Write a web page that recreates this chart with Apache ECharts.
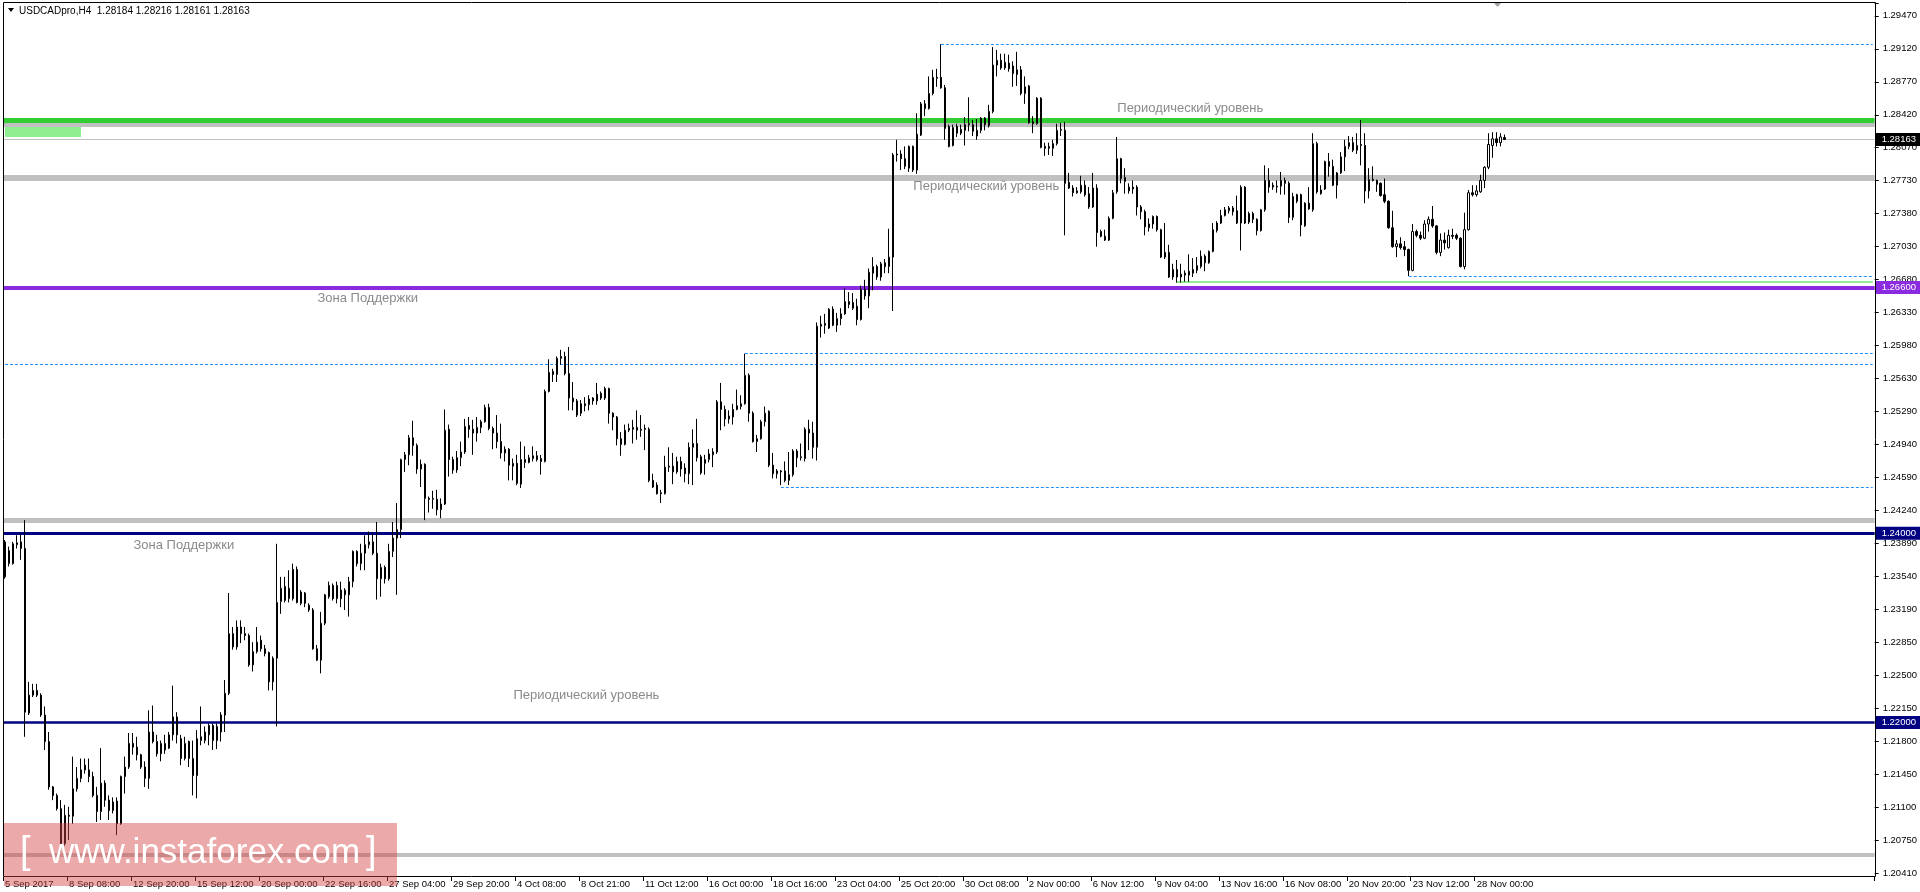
<!DOCTYPE html>
<html><head><meta charset="utf-8">
<script src="https://cdn.jsdelivr.net/npm/echarts@6/dist/echarts.min.js"></script>
<style>html,body{margin:0;padding:0;background:#fff;overflow:hidden}#chart{width:1920px;height:892px}</style>
</head><body><div id="chart"></div>
<script>
// ---------- DATA ----------
const chartTitle = 'USDCADpro,H4  1.28184 1.28216 1.28161 1.28163';
const timeLabels = ['5 Sep 2017','8 Sep 08:00','12 Sep 20:00','15 Sep 12:00','20 Sep 00:00','22 Sep 16:00','27 Sep 04:00','29 Sep 20:00','4 Oct 08:00','8 Oct 21:00','11 Oct 12:00','16 Oct 00:00','18 Oct 16:00','23 Oct 04:00','25 Oct 20:00','30 Oct 08:00','2 Nov 00:00','6 Nov 12:00','9 Nov 04:00','13 Nov 16:00','16 Nov 08:00','20 Nov 20:00','23 Nov 12:00','28 Nov 00:00'];
const barsPerLabel = 16;
const totalSlots = 468; // bars + empty shift area on the right
const priceTicks = ['1.20410','1.20750','1.21100','1.21450','1.21800','1.22150','1.22500','1.22850','1.23190','1.23540','1.23890','1.24240','1.24590','1.24940','1.25290','1.25630','1.25980','1.26330','1.26680','1.27030','1.27380','1.27730','1.28070','1.28420','1.28770','1.29120','1.29470'];
// [open, high, low, close]
const ohlc = [
[1.2354,1.2393,1.2352,1.2391],[1.2368,1.2386,1.2365,1.2382],[1.2368,1.2391,1.2367,1.2389],[1.2388,1.2398,1.2384,1.2390],[1.2391,1.2400,1.2372,1.2384],
[1.2384,1.2414,1.2185,1.2211],[1.2210,1.2243,1.2208,1.2229],[1.2229,1.2241,1.2227,1.2234],[1.2234,1.2241,1.2227,1.2229],[1.2229,1.2231,1.2206,1.2208],
[1.2208,1.2217,1.2171,1.2180],[1.2180,1.2190,1.2129,1.2132],[1.2132,1.2133,1.2118,1.2123],[1.2123,1.2125,1.2107,1.2109],[1.2109,1.2118,1.2063,1.2072],
[1.2072,1.2113,1.2070,1.2102],[1.2102,1.2111,1.2076,1.2101],[1.2101,1.2164,1.2093,1.2130],[1.2130,1.2153,1.2127,1.2141],[1.2141,1.2162,1.2137,1.2150],
[1.2155,1.2162,1.2146,1.2150],[1.2150,1.2162,1.2137,1.2143],[1.2143,1.2148,1.2121,1.2123],[1.2123,1.2132,1.2095,1.2106],[1.2106,1.2173,1.2097,1.2136],
[1.2136,1.2139,1.2111,1.2118],[1.2118,1.2123,1.2097,1.2107],[1.2107,1.2121,1.2104,1.2116],[1.2117,1.2121,1.2081,1.2093],[1.2093,1.2144,1.2092,1.2143],
[1.2143,1.2164,1.2125,1.2153],[1.2153,1.2189,1.2151,1.2178],[1.2178,1.2189,1.2166,1.2174],[1.2174,1.2185,1.2160,1.2166],[1.2166,1.2167,1.2151,1.2153],
[1.2153,1.2159,1.2132,1.2141],[1.2141,1.2213,1.2130,1.2190],[1.2190,1.2218,1.2178,1.2180],[1.2180,1.2187,1.2164,1.2167],[1.2167,1.2181,1.2159,1.2178],
[1.2171,1.2187,1.2167,1.2178],[1.2173,1.2190,1.2172,1.2187],[1.2187,1.2239,1.2181,1.2206],[1.2206,1.2211,1.2178,1.2187],[1.2183,1.2187,1.2155,1.2162],
[1.2162,1.2185,1.2160,1.2178],[1.2180,1.2181,1.2153,1.2162],[1.2162,1.2181,1.2123,1.2144],[1.2144,1.2192,1.2120,1.2183],[1.2181,1.2217,1.2176,1.2185],
[1.2181,1.2196,1.2178,1.2190],[1.2187,1.2199,1.2176,1.2197],[1.2197,1.2199,1.2171,1.2181],[1.2181,1.2199,1.2172,1.2196],[1.2190,1.2211,1.2180,1.2208],
[1.2208,1.2245,1.2190,1.2231],[1.2231,1.2337,1.2229,1.2294],[1.2294,1.2301,1.2277,1.2280],[1.2280,1.2308,1.2277,1.2301],[1.2301,1.2308,1.2284,1.2294],
[1.2294,1.2301,1.2287,1.2292],[1.2292,1.2294,1.2259,1.2261],[1.2261,1.2285,1.2254,1.2275],[1.2275,1.2301,1.2273,1.2285],[1.2287,1.2292,1.2275,1.2278],
[1.2278,1.2282,1.2270,1.2273],[1.2274,1.2275,1.2234,1.2243],[1.2243,1.2270,1.2234,1.2268],[1.2268,1.2389,1.2196,1.2327],[1.2328,1.2354,1.2315,1.2342],
[1.2329,1.2354,1.2327,1.2344],[1.2331,1.2361,1.2327,1.2342],[1.2331,1.2368,1.2329,1.2362],[1.2362,1.2365,1.2326,1.2327],[1.2326,1.2340,1.2324,1.2338],
[1.2337,1.2338,1.2322,1.2326],[1.2324,1.2326,1.2317,1.2319],[1.2319,1.2321,1.2277,1.2278],[1.2278,1.2282,1.2265,1.2266],[1.2266,1.2317,1.2252,1.2305],
[1.2305,1.2336,1.2303,1.2335],[1.2333,1.2349,1.2331,1.2345],[1.2345,1.2347,1.2329,1.2331],[1.2331,1.2349,1.2326,1.2345],[1.2340,1.2349,1.2322,1.2331],
[1.2335,1.2342,1.2319,1.2340],[1.2335,1.2354,1.2312,1.2349],[1.2349,1.2382,1.2343,1.2381],[1.2381,1.2382,1.2365,1.2368],[1.2368,1.2389,1.2361,1.2379],
[1.2379,1.2398,1.2361,1.2388],[1.2388,1.2402,1.2384,1.2391],[1.2391,1.2400,1.2377,1.2379],[1.2379,1.2412,1.2330,1.2352],[1.2352,1.2368,1.2333,1.2364],
[1.2364,1.2366,1.2347,1.2352],[1.2352,1.2389,1.2350,1.2381],[1.2381,1.2412,1.2375,1.2395],[1.2395,1.2432,1.2335,1.2404],[1.2404,1.2479,1.2395,1.2478],
[1.2478,1.2486,1.2465,1.2483],[1.2483,1.2504,1.2472,1.2501],[1.2501,1.2519,1.2482,1.2493],[1.2493,1.2495,1.2463,1.2468],[1.2468,1.2478,1.2449,1.2473],
[1.2473,1.2474,1.2414,1.2437],[1.2437,1.2439,1.2422,1.2436],[1.2436,1.2445,1.2426,1.2437],[1.2436,1.2446,1.2419,1.2425],[1.2425,1.2437,1.2416,1.2431],
[1.2431,1.2531,1.2430,1.2509],[1.2510,1.2515,1.2460,1.2478],[1.2478,1.2481,1.2463,1.2467],[1.2467,1.2487,1.2464,1.2480],[1.2480,1.2497,1.2471,1.2486],
[1.2486,1.2521,1.2484,1.2513],[1.2514,1.2523,1.2501,1.2510],[1.2510,1.2520,1.2483,1.2506],[1.2506,1.2523,1.2497,1.2512],[1.2512,1.2520,1.2506,1.2518],
[1.2518,1.2536,1.2517,1.2533],[1.2533,1.2537,1.2509,1.2511],[1.2511,1.2513,1.2489,1.2506],[1.2506,1.2525,1.2490,1.2497],[1.2497,1.2516,1.2479,1.2485],
[1.2485,1.2492,1.2476,1.2489],[1.2489,1.2490,1.2456,1.2472],[1.2471,1.2479,1.2456,1.2474],[1.2474,1.2483,1.2451,1.2453],[1.2452,1.2497,1.2448,1.2478],
[1.2478,1.2492,1.2469,1.2475],[1.2475,1.2483,1.2474,1.2480],[1.2479,1.2492,1.2476,1.2482],[1.2482,1.2487,1.2476,1.2478],[1.2479,1.2483,1.2462,1.2476],
[1.2476,1.2552,1.2475,1.2550],[1.2550,1.2584,1.2549,1.2570],[1.2571,1.2574,1.2560,1.2568],[1.2568,1.2587,1.2560,1.2585],[1.2585,1.2594,1.2578,1.2587],
[1.2587,1.2592,1.2567,1.2569],[1.2569,1.2597,1.2530,1.2543],[1.2543,1.2560,1.2530,1.2539],[1.2540,1.2542,1.2523,1.2525],[1.2527,1.2541,1.2524,1.2537],
[1.2537,1.2544,1.2529,1.2535],[1.2536,1.2546,1.2530,1.2542],[1.2543,1.2544,1.2536,1.2540],[1.2540,1.2559,1.2536,1.2547],[1.2548,1.2550,1.2541,1.2543],
[1.2543,1.2555,1.2541,1.2553],[1.2553,1.2554,1.2516,1.2527],[1.2527,1.2528,1.2509,1.2523],[1.2523,1.2524,1.2493,1.2500],[1.2500,1.2507,1.2482,1.2494],
[1.2494,1.2515,1.2493,1.2509],[1.2509,1.2516,1.2507,1.2511],[1.2510,1.2520,1.2495,1.2512],[1.2512,1.2530,1.2499,1.2509],[1.2510,1.2525,1.2502,1.2509],
[1.2511,1.2515,1.2488,1.2510],[1.2510,1.2512,1.2454,1.2456],[1.2456,1.2463,1.2448,1.2449],[1.2451,1.2454,1.2441,1.2442],[1.2443,1.2446,1.2432,1.2442],
[1.2442,1.2482,1.2441,1.2470],[1.2470,1.2491,1.2465,1.2471],[1.2471,1.2485,1.2452,1.2465],[1.2465,1.2481,1.2463,1.2476],[1.2476,1.2481,1.2460,1.2468],
[1.2469,1.2474,1.2454,1.2463],[1.2463,1.2496,1.2452,1.2491],[1.2491,1.2510,1.2451,1.2495],[1.2495,1.2521,1.2476,1.2480],[1.2481,1.2483,1.2462,1.2464],
[1.2474,1.2483,1.2462,1.2478],[1.2478,1.2489,1.2475,1.2484],[1.2483,1.2490,1.2470,1.2486],[1.2486,1.2541,1.2484,1.2539],[1.2539,1.2559,1.2509,1.2531],
[1.2531,1.2535,1.2513,1.2521],[1.2521,1.2530,1.2516,1.2524],[1.2523,1.2537,1.2515,1.2531],[1.2531,1.2552,1.2530,1.2535],[1.2534,1.2546,1.2531,1.2537],
[1.2537,1.2590,1.2536,1.2567],[1.2567,1.2569,1.2518,1.2527],[1.2527,1.2529,1.2496,1.2497],[1.2497,1.2504,1.2486,1.2500],[1.2500,1.2520,1.2499,1.2518],
[1.2518,1.2534,1.2513,1.2527],[1.2529,1.2530,1.2470,1.2472],[1.2472,1.2485,1.2458,1.2463],[1.2463,1.2468,1.2458,1.2466],[1.2466,1.2467,1.2451,1.2465],
[1.2466,1.2476,1.2454,1.2456],[1.2456,1.2486,1.2451,1.2462],[1.2462,1.2489,1.2460,1.2487],[1.2487,1.2489,1.2470,1.2480],[1.2480,1.2495,1.2477,1.2481],
[1.2479,1.2512,1.2476,1.2510],[1.2510,1.2520,1.2488,1.2506],[1.2506,1.2518,1.2479,1.2491],[1.2491,1.2623,1.2477,1.2619],[1.2619,1.2630,1.2607,1.2621],
[1.2620,1.2632,1.2611,1.2622],[1.2617,1.2638,1.2616,1.2637],[1.2637,1.2640,1.2619,1.2620],[1.2620,1.2633,1.2613,1.2627],[1.2627,1.2638,1.2620,1.2632],
[1.2632,1.2659,1.2631,1.2645],[1.2645,1.2655,1.2638,1.2642],[1.2644,1.2654,1.2636,1.2638],[1.2640,1.2648,1.2620,1.2626],[1.2626,1.2662,1.2625,1.2658],
[1.2658,1.2668,1.2647,1.2651],[1.2651,1.2680,1.2638,1.2676],[1.2675,1.2692,1.2657,1.2682],[1.2682,1.2684,1.2668,1.2671],[1.2671,1.2687,1.2667,1.2685],
[1.2686,1.2690,1.2675,1.2682],[1.2682,1.2722,1.2675,1.2692],[1.2692,1.2802,1.2635,1.2800],[1.2800,1.2816,1.2793,1.2801],[1.2801,1.2805,1.2784,1.2796],
[1.2796,1.2809,1.2785,1.2788],[1.2786,1.2810,1.2782,1.2809],[1.2809,1.2810,1.2782,1.2784],[1.2784,1.2844,1.2780,1.2822],[1.2821,1.2856,1.2820,1.2854],
[1.2854,1.2858,1.2841,1.2849],[1.2849,1.2883,1.2848,1.2865],[1.2865,1.2890,1.2863,1.2882],[1.2882,1.2891,1.2872,1.2881],[1.2882,1.2917,1.2870,1.2871],
[1.2871,1.2874,1.2816,1.2828],[1.2830,1.2832,1.2808,1.2809],[1.2810,1.2832,1.2809,1.2829],[1.2830,1.2833,1.2819,1.2823],[1.2823,1.2832,1.2821,1.2827],
[1.2826,1.2840,1.2810,1.2832],[1.2833,1.2861,1.2825,1.2832],[1.2832,1.2837,1.2820,1.2825],[1.2820,1.2838,1.2816,1.2826],[1.2826,1.2840,1.2823,1.2839],
[1.2839,1.2840,1.2826,1.2832],[1.2831,1.2853,1.2829,1.2846],[1.2846,1.2914,1.2844,1.2895],[1.2895,1.2911,1.2883,1.2900],[1.2900,1.2907,1.2890,1.2892],
[1.2892,1.2907,1.2890,1.2898],[1.2897,1.2906,1.2888,1.2891],[1.2894,1.2899,1.2872,1.2886],[1.2885,1.2909,1.2873,1.2890],[1.2890,1.2894,1.2863,1.2865],
[1.2865,1.2883,1.2854,1.2872],[1.2873,1.2874,1.2833,1.2834],[1.2835,1.2841,1.2823,1.2833],[1.2833,1.2861,1.2832,1.2860],[1.2860,1.2861,1.2807,1.2808],
[1.2809,1.2813,1.2799,1.2807],[1.2807,1.2813,1.2800,1.2809],[1.2807,1.2816,1.2799,1.2812],[1.2812,1.2833,1.2810,1.2826],[1.2826,1.2834,1.2820,1.2827],
[1.2826,1.2835,1.2715,1.2770],[1.2771,1.2781,1.2764,1.2765],[1.2765,1.2768,1.2756,1.2760],[1.2762,1.2766,1.2759,1.2760],[1.2761,1.2778,1.2759,1.2768],
[1.2768,1.2773,1.2756,1.2758],[1.2759,1.2766,1.2743,1.2745],[1.2745,1.2781,1.2744,1.2765],[1.2765,1.2769,1.2703,1.2718],[1.2719,1.2721,1.2713,1.2714],
[1.2714,1.2721,1.2709,1.2710],[1.2710,1.2735,1.2709,1.2733],[1.2733,1.2763,1.2732,1.2760],[1.2761,1.2819,1.2759,1.2796],[1.2796,1.2797,1.2770,1.2775],
[1.2776,1.2786,1.2759,1.2772],[1.2762,1.2770,1.2759,1.2766],[1.2766,1.2773,1.2759,1.2764],[1.2766,1.2768,1.2736,1.2745],[1.2745,1.2747,1.2732,1.2740],
[1.2740,1.2742,1.2715,1.2724],[1.2723,1.2733,1.2719,1.2727],[1.2727,1.2736,1.2722,1.2735],[1.2735,1.2736,1.2719,1.2721],[1.2721,1.2722,1.2691,1.2692],
[1.2692,1.2728,1.2690,1.2697],[1.2697,1.2705,1.2670,1.2671],[1.2671,1.2685,1.2668,1.2679],[1.2679,1.2689,1.2665,1.2671],[1.2671,1.2685,1.2665,1.2674],
[1.2675,1.2678,1.2666,1.2673],[1.2673,1.2695,1.2666,1.2677],[1.2675,1.2691,1.2671,1.2679],[1.2678,1.2692,1.2675,1.2683],[1.2682,1.2699,1.2680,1.2693],
[1.2693,1.2695,1.2677,1.2686],[1.2686,1.2699,1.2685,1.2698],[1.2698,1.2728,1.2697,1.2721],[1.2720,1.2730,1.2718,1.2728],[1.2728,1.2742,1.2727,1.2736],
[1.2736,1.2745,1.2735,1.2742],[1.2741,1.2746,1.2738,1.2744],[1.2744,1.2746,1.2736,1.2740],[1.2741,1.2757,1.2727,1.2728],[1.2728,1.2768,1.2699,1.2766],
[1.2766,1.2767,1.2727,1.2728],[1.2729,1.2740,1.2727,1.2738],[1.2738,1.2740,1.2728,1.2732],[1.2732,1.2733,1.2715,1.2720],[1.2720,1.2743,1.2719,1.2742],
[1.2742,1.2789,1.2740,1.2773],[1.2773,1.2786,1.2760,1.2766],[1.2768,1.2771,1.2763,1.2766],[1.2766,1.2773,1.2760,1.2767],[1.2767,1.2782,1.2758,1.2773],
[1.2773,1.2776,1.2758,1.2770],[1.2770,1.2772,1.2728,1.2734],[1.2734,1.2760,1.2731,1.2756],[1.2751,1.2759,1.2749,1.2758],[1.2758,1.2759,1.2714,1.2726],
[1.2725,1.2750,1.2724,1.2749],[1.2749,1.2766,1.2742,1.2743],[1.2742,1.2823,1.2740,1.2812],[1.2812,1.2814,1.2759,1.2761],[1.2759,1.2768,1.2758,1.2763],
[1.2764,1.2794,1.2763,1.2793],[1.2793,1.2802,1.2777,1.2788],[1.2788,1.2795,1.2767,1.2768],[1.2768,1.2782,1.2754,1.2781],[1.2781,1.2803,1.2780,1.2798],
[1.2798,1.2816,1.2783,1.2809],[1.2809,1.2820,1.2806,1.2813],[1.2813,1.2819,1.2803,1.2805],[1.2805,1.2823,1.2801,1.2810],[1.2811,1.2837,1.2789,1.2810],
[1.2810,1.2823,1.2749,1.2762],[1.2762,1.2786,1.2754,1.2774],[1.2774,1.2788,1.2772,1.2773],[1.2773,1.2774,1.2761,1.2769],[1.2770,1.2771,1.2756,1.2757],
[1.2758,1.2775,1.2749,1.2751],[1.2751,1.2752,1.2722,1.2723],[1.2723,1.2741,1.2702,1.2703],[1.2703,1.2710,1.2692,1.2706],[1.2706,1.2713,1.2700,1.2702],
[1.2703,1.2709,1.2693,1.2700],[1.2700,1.2701,1.2672,1.2678],[1.2678,1.2727,1.2677,1.2719],[1.2719,1.2721,1.2713,1.2715],[1.2715,1.2719,1.2710,1.2712],
[1.2712,1.2731,1.2711,1.2727],[1.2727,1.2735,1.2719,1.2732],[1.2732,1.2746,1.2723,1.2725],[1.2725,1.2726,1.2695,1.2697],[1.2697,1.2717,1.2693,1.2710],
[1.2710,1.2718,1.2700,1.2707],[1.2702,1.2721,1.2701,1.2715],[1.2715,1.2722,1.2711,1.2714],[1.2715,1.2717,1.2710,1.2712],[1.2712,1.2713,1.2681,1.2682],
[1.2682,1.2739,1.2679,1.2721],[1.2721,1.2763,1.2720,1.2760],[1.2760,1.2768,1.2756,1.2758],[1.2758,1.2768,1.2756,1.2762],[1.2761,1.2779,1.2760,1.2773],
[1.2773,1.2788,1.2765,1.2787],[1.2787,1.2823,1.2785,1.2811],[1.2810,1.2824,1.2797,1.2817],[1.2817,1.2824,1.2809,1.2813],[1.2813,1.2823,1.2809,1.2819],
[1.28184,1.28216,1.28161,1.28163]
];
// horizontal levels drawn across the whole chart: [price, colour, width, boxed label or '']
const fullLevels = [
  [1.28370, '#32CD32', 5, ''],
  [1.28316, '#C0C0C0', 4, ''],
  [1.28163, '#C0C0C0', 1, '1.28163'],
  [1.27760, '#C0C0C0', 6, ''],
  [1.26600, '#8A2BE2', 4, '1.26600'],
  [1.24135, '#C0C0C0', 5, ''],
  [1.24000, '#000080', 3, '1.24000'],
  [1.22000, '#000080', 2.5, '1.22000'],
  [1.20600, '#C0C0C0', 4, '']
];
const labelBg = {'1.28163':'#000000','1.26600':'#8A2BE2','1.24000':'#000080','1.22000':'#000080'};
// rays from a bar to the right edge: [startBar, price, style]
const rays = [
  [234, 1.2917, 'dash'],
  [185, 1.2590, 'dash'],
  [0,   1.2579, 'dash'],
  [194, 1.2449, 'dash'],
  [351, 1.2672, 'dash'],
  [293, 1.2666, 'green']
];
// text annotations: [text, bar, price]
const notes = [
  ['Периодический уровень', 278, 1.2849],
  ['Периодический уровень', 227, 1.2767],
  ['Периодический уровень', 127, 1.2229],
  ['Зона Поддержки', 78, 1.2648],
  ['Зона Поддержки', 32, 1.2387]
];
// light-green rectangle object: [fromBar, toBar, top, bottom]
const greenBox = [0, 19, 1.2830, 1.2819];

// ---------- CHART ----------
const FONT = 'Liberation Sans, Arial, sans-serif';
const yMin = 1.2041, yMax = 1.29606, yStep = 0.0906 / 26;
const categories = Array.from({length: totalSlots}, (_, i) => String(i));
const candleData = ohlc.map(r => [r[0], r[3], r[2], r[1]]);
const showLabel = i => i % barsPerLabel === 0 && (i / barsPerLabel) < timeLabels.length;
const lastSlot = totalSlots - 1;

const markLineData = [];
fullLevels.forEach(([p, c, w, lab]) => {
  markLineData.push({
    yAxis: p,
    lineStyle: {color: c, width: w, type: 'solid'},
    label: lab ? {show: true, position: 'end', formatter: lab, color: '#fff', backgroundColor: labelBg[lab],
      padding: [2, 4, 1, 6], distance: 1, fontSize: 9.5, fontFamily: FONT} : {show: false}
  });
});
rays.forEach(([b, p, s]) => {
  const ls = s === 'dash' ? {color: '#1E90FF', width: 1, type: [3, 2]} : {color: '#90EE90', width: 2, type: 'solid'};
  markLineData.push([{coord: [b, p], lineStyle: ls, label: {show: false}}, {coord: [lastSlot, p]}]);
});

const chart = echarts.init(document.getElementById('chart'), null, {renderer: 'canvas'});
chart.setOption({
  animation: false,
  backgroundColor: '#ffffff',
  grid: {left: 3, right: 45, top: 3, bottom: 19, containLabel: false},
  xAxis: {
    type: 'category', data: categories, boundaryGap: true, offset: 4,
    axisLine: {show: false},
    axisTick: {show: true, length: 4, interval: showLabel, lineStyle: {color: '#000'}},
    axisLabel: {show: true, interval: showLabel, align: 'left', margin: 2, color: '#000', fontSize: 9.5, fontFamily: FONT,
      formatter: (v, i) => showLabel(i) ? timeLabels[i / barsPerLabel] : ''},
    splitLine: {show: false}
  },
  yAxis: {
    type: 'value', position: 'right', min: yMin, max: yMax, interval: yStep, scale: true,
    axisLine: {show: false},
    axisTick: {show: true, length: 4, lineStyle: {color: '#000'}},
    axisLabel: {show: true, margin: 8, color: '#000', fontSize: 9.5, fontFamily: FONT,
      formatter: v => {
        const k = Math.round((v - yMin) / yStep);
        if (Math.abs(v - (yMin + k * yStep)) > yStep * 0.1) return '';
        return priceTicks[k] || '';
      }},
    splitLine: {show: false}
  },
  series: [
    {
      type: 'line', data: [], z: 1, silent: true,
      markLine: {silent: true, symbol: ['none', 'none'], z: 1, precision: 6, animation: false, data: markLineData},
      markArea: {silent: true, z: 1, itemStyle: {color: '#90EE90'},
        data: [[{coord: [greenBox[0], greenBox[2]]}, {coord: [greenBox[1], greenBox[3]]}]]},
      markPoint: {silent: true, z: 4, symbol: 'circle', symbolSize: 1, itemStyle: {color: 'rgba(0,0,0,0)'},
        label: {show: true, position: 'right', distance: 0, color: '#8a8a8a', fontSize: 13, fontFamily: FONT,
          formatter: p => p.name},
        data: notes.map(([t, b, p]) => ({name: t, coord: [b, p]}))}
    },
    {
      type: 'candlestick', data: candleData, z: 3, barWidth: 2, silent: true, large: false,
      itemStyle: {color: '#ffffff', color0: '#000000', borderColor: '#000000', borderColor0: '#000000', borderWidth: 1}
    }
  ],
  graphic: [
    {type: 'rect', silent: true, z: 50, shape: {x: 3.5, y: 2.5, width: 1872, height: 874}, style: {fill: 'none', stroke: '#000', lineWidth: 1}},
    {type: 'polygon', silent: true, z: 50, shape: {points: [[8, 8], [14, 8], [11, 12]]}, style: {fill: '#000'}},
    {type: 'text', silent: true, z: 50, x: 19, y: 11, style: {text: chartTitle, fill: '#000', fontSize: 10, fontFamily: FONT, verticalAlign: 'middle'}},
    {type: 'polygon', silent: true, z: 50, shape: {points: [[1494, 3], [1501, 3], [1497.5, 7]]}, style: {fill: '#a0a0a0'}},
    {type: 'rect', silent: true, z: 100, shape: {x: 4, y: 823, width: 393, height: 63}, style: {fill: 'rgba(213,65,65,0.45)'}},
    {type: 'text', silent: true, z: 101, x: 20, y: 853, style: {text: '[', fill: '#fff', fontSize: 38, fontFamily: FONT, verticalAlign: 'middle'}},
    {type: 'text', silent: true, z: 101, x: 49, y: 853, style: {text: 'www.instaforex.com', fill: '#fff', fontSize: 35, fontFamily: FONT, verticalAlign: 'middle'}},
    {type: 'text', silent: true, z: 101, x: 366, y: 853, style: {text: ']', fill: '#fff', fontSize: 38, fontFamily: FONT, verticalAlign: 'middle'}}
  ]
});
</script>
</body></html>
